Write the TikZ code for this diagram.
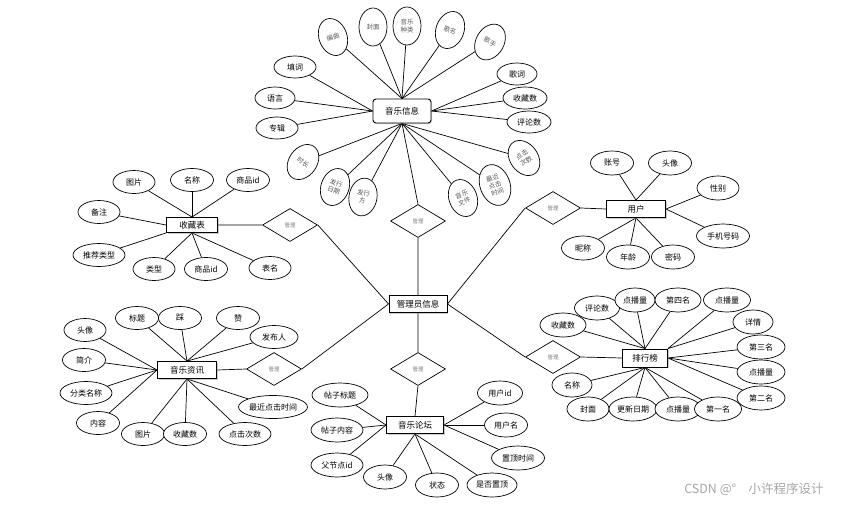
\documentclass[tikz,border=0pt]{standalone}
\usepackage{fontspec}
\setmainfont{Noto Sans CJK SC}
\usetikzlibrary{shapes.geometric,shadows,backgrounds}
\begin{document}
\begin{tikzpicture}[x=1pt,y=-1pt,
 attr/.style={ellipse,draw,line width=0.7pt,fill=white,inner sep=0pt,minimum height=24pt,minimum width=43pt,font=\fontsize{8}{9}\selectfont},
 rattr/.style={ellipse,draw,line width=0.7pt,fill=white,inner sep=0pt,minimum height=38pt,minimum width=28pt,align=center,font=\fontsize{6.5}{7.5}\selectfont,text=black!65},
 ent/.style={rectangle,draw,line width=0.9pt,fill=white,inner sep=0pt,minimum width=58pt,minimum height=17pt,font=\fontsize{8.5}{10}\selectfont,drop shadow={shadow xshift=1pt,shadow yshift=-1pt,opacity=0.4}},
 rel/.style={diamond,draw,line width=0.7pt,fill=white,inner sep=0pt,minimum width=55pt,minimum height=33pt,font=\fontsize{5.5}{6}\selectfont,text=black!50},
 lnk/.style={line width=0.7pt}]
\useasboundingbox (0,0) rectangle (849,504);

% entities
\node[ent,rounded corners=3pt,minimum height=24pt] (mi) at (402,111) {音乐信息};
\node[ent] (gly) at (418,304) {管理员信息};
\node[ent,minimum width=51pt,minimum height=15pt] (sc) at (192,225) {收藏表};
\node[ent,minimum width=59pt] (yh) at (636,209) {用户};
\node[ent,minimum width=59pt] (zx) at (187,370) {音乐资讯};
\node[ent,minimum width=57pt] (lt) at (415,425) {音乐论坛};
\node[ent,minimum width=45pt,minimum height=18pt] (ph) at (645,358) {排行榜};

% relations
\node[rel] (d1) at (418,221) {管理};
\node[rel] (d2) at (290,225) {管理};
\node[rel] (d3) at (553,208) {管理};
\node[rel] (d4) at (274,369) {管理};
\node[rel] (d5) at (418,369) {管理};
\node[rel] (d6) at (553,357) {管理};

% 音乐信息 attributes
\node[rattr,rotate=20] (m1) at (333,37) {编曲};
\node[rattr] (m2) at (373,27) {封面};
\node[rattr] (m3) at (407,26) {音乐\\种类};
\node[rattr,rotate=-20] (m4) at (450,30) {歌名};
\node[rattr,rotate=-30] (m5) at (490,42) {歌手};
\node[attr,minimum width=42pt,minimum height=22pt] (m6) at (295,67) {填词};
\node[attr,minimum width=40pt,minimum height=22pt] (m7) at (275,98) {语言};
\node[attr,minimum width=42pt,minimum height=22pt] (m8) at (277,128) {专辑};
\node[attr,minimum width=40pt,minimum height=22pt] (m9) at (517,74) {歌词};
\node[attr,minimum width=44pt,minimum height=22pt] (m10) at (525,98) {收藏数};
\node[attr,minimum width=44pt,minimum height=22pt] (m11) at (529,122) {评论数};
\node[rattr,rotate=-35] (m12) at (303,162) {时长};
\node[rattr,rotate=-20] (m13) at (335,187) {发行\\日期};
\node[rattr,rotate=-10] (m14) at (363,197) {发行\\方};
\node[rattr,rotate=20] (m15) at (463,198) {音乐\\文件};
\node[rattr,rotate=20,minimum height=42pt,minimum width=30pt] (m16) at (495,185) {最近\\点击\\时间};
\node[rattr,rotate=35] (m17) at (524,158) {点击\\次数};

% 收藏表 attributes
\node[attr,minimum width=42pt,minimum height=23pt] (s1) at (134,182) {图片};
\node[attr,minimum height=23pt] (s2) at (192,180) {名称};
\node[attr,minimum height=23pt] (s3) at (248,180) {商品id};
\node[attr,minimum width=42pt,minimum height=23pt] (s4) at (99,212) {备注};
\node[attr,minimum width=52pt,minimum height=23pt] (s5) at (99,255) {推荐类型};
\node[attr,minimum width=42pt,minimum height=23pt] (s6) at (154,269) {类型};
\node[attr,minimum height=23pt] (s7) at (206,269) {商品id};
\node[attr,minimum width=42pt,minimum height=23pt] (s8) at (270,268) {表名};

% 用户 attributes
\node[attr] (u1) at (612,163) {账号};
\node[attr] (u2) at (670,163) {头像};
\node[attr,minimum width=42pt] (u3) at (718,188) {性别};
\node[attr,minimum width=53pt] (u4) at (723,236) {手机号码};
\node[attr] (u5) at (583,248) {昵称};
\node[attr] (u6) at (628,257) {年龄};
\node[attr] (u7) at (673,257) {密码};

% 音乐资讯 attributes
\node[attr,minimum width=42pt,minimum height=23pt] (z1) at (85,330) {头像};
\node[attr,minimum height=23pt] (z2) at (137,318) {标题};
\node[attr,minimum height=23pt] (z3) at (180,318) {踩};
\node[attr,minimum height=23pt] (z4) at (238,318) {赞};
\node[attr,minimum width=48pt,minimum height=23pt] (z5) at (274,337) {发布人};
\node[attr,minimum height=23pt] (z6) at (84,360) {简介};
\node[attr,minimum width=52pt,minimum height=23pt] (z7) at (86,393) {分类名称};
\node[attr,minimum height=23pt] (z8) at (98,423) {内容};
\node[attr,minimum height=23pt] (z9) at (143,434) {图片};
\node[attr,minimum height=23pt] (z10) at (185,434) {收藏数};
\node[attr,minimum width=52pt,minimum height=23pt] (z11) at (245,434) {点击次数};
\node[attr,minimum width=69pt,minimum height=23pt] (z12) at (273,407) {最近点击时间};

% 音乐论坛 attributes
\node[attr,minimum width=56pt] (t1) at (340,395) {帖子标题};
\node[attr,minimum width=52pt] (t2) at (337,430) {帖子内容};
\node[attr,minimum width=52pt] (t3) at (337,465) {父节点id};
\node[attr] (t4) at (385,477) {头像};
\node[attr] (t5) at (437,485) {状态};
\node[attr,minimum width=50pt] (t6) at (492,485) {是否置顶};
\node[attr,minimum width=45pt] (t7) at (500,393) {用户id};
\node[attr] (t8) at (506,425) {用户名};
\node[attr,minimum width=53pt] (t9) at (518,458) {置顶时间};

% 排行榜 attributes
\node[attr,minimum width=45pt] (p1) at (597,308) {评论数};
\node[attr,minimum width=40pt] (p2) at (635,300) {点播量};
\node[attr,minimum width=46pt] (p3) at (678,300) {第四名};
\node[attr,minimum width=47pt] (p4) at (727,300) {点播量};
\node[attr,minimum width=46pt] (p5) at (563,325) {收藏数};
\node[attr,minimum width=40pt] (p6) at (753,322) {详情};
\node[attr,minimum width=48pt] (p7) at (761,347) {第三名};
\node[attr,minimum width=48pt] (p8) at (761,372) {点播量};
\node[attr,minimum width=48pt] (p9) at (761,398) {第二名};
\node[attr,minimum width=40pt] (p10) at (572,385) {名称};
\node[attr,minimum width=42pt] (p11) at (588,409) {封面};
\node[attr,minimum width=48pt] (p12) at (633,409) {更新日期};
\node[attr,minimum width=46pt] (p13) at (678,409) {点播量};
\node[attr,minimum width=47pt] (p14) at (718,409) {第一名};

\node[font=\fontsize{12.5}{14}\selectfont,text=black!35] (wm) at (754,489) {CSDN @°\quad 小许程序设计};

\begin{scope}[on background layer]
\draw[lnk] (mi.south) -- (d1.north) (d1.south) -- (gly.north);
\draw[lnk] (sc.east) -- (d2.west) (d2.east) -- (gly.west);
\draw[lnk] (gly.east) -- (d3.west) (d3.east) -- (yh.west);
\draw[lnk] (zx.east) -- (d4.west) (d4.east) -- (gly.west);
\draw[lnk] (gly.east) -- (d6.west) (d6.east) -- (ph.west);
\draw[lnk] (gly.south) -- (d5.north) (d5.south) -- (lt.north);
\foreach \n in {m1,m2,m3,m4,m5} \draw[lnk] (\n) -- (mi.north);
\foreach \n in {m6,m7,m8} \draw[lnk] (\n) -- (mi.west);
\foreach \n in {m9,m10,m11} \draw[lnk] (\n) -- (mi.east);
\foreach \n in {m12,m13,m14,m15,m16,m17} \draw[lnk] (\n) -- (mi.south);
\foreach \n in {s1,s2,s3} \draw[lnk] (\n) -- (sc.north);
\draw[lnk] (s4) -- (sc.west);
\draw[lnk] (s5) -- (sc.south west);
\foreach \n in {s6,s7,s8} \draw[lnk] (\n) -- (sc.south);
\foreach \n in {u1,u2} \draw[lnk] (\n) -- (yh.north);
\foreach \n in {u3,u4} \draw[lnk] (\n) -- (yh.east);
\foreach \n in {u5,u6,u7} \draw[lnk] (\n) -- (yh.south);
\foreach \n in {z2,z3,z4,z5} \draw[lnk] (\n) -- (zx.north);
\foreach \n in {z1,z6,z7,z8} \draw[lnk] (\n) -- (zx.west);
\foreach \n in {z9,z10,z11,z12} \draw[lnk] (\n) -- (zx.south);
\foreach \n in {t1,t2,t3} \draw[lnk] (\n) -- (lt.west);
\foreach \n in {t4,t5,t6} \draw[lnk] (\n) -- (lt.south);
\foreach \n in {t7,t8,t9} \draw[lnk] (\n) -- (lt.east);
\foreach \n in {p1,p2,p3,p5} \draw[lnk] (\n) -- (ph.north);
\foreach \n in {p4,p6} \draw[lnk] (\n) -- (ph.north east);
\foreach \n in {p7,p8,p9} \draw[lnk] (\n) -- (ph.east);
\foreach \n in {p10,p11,p12,p13,p14} \draw[lnk] (\n) -- (ph.south);
\end{scope}
\end{tikzpicture}
\end{document}
